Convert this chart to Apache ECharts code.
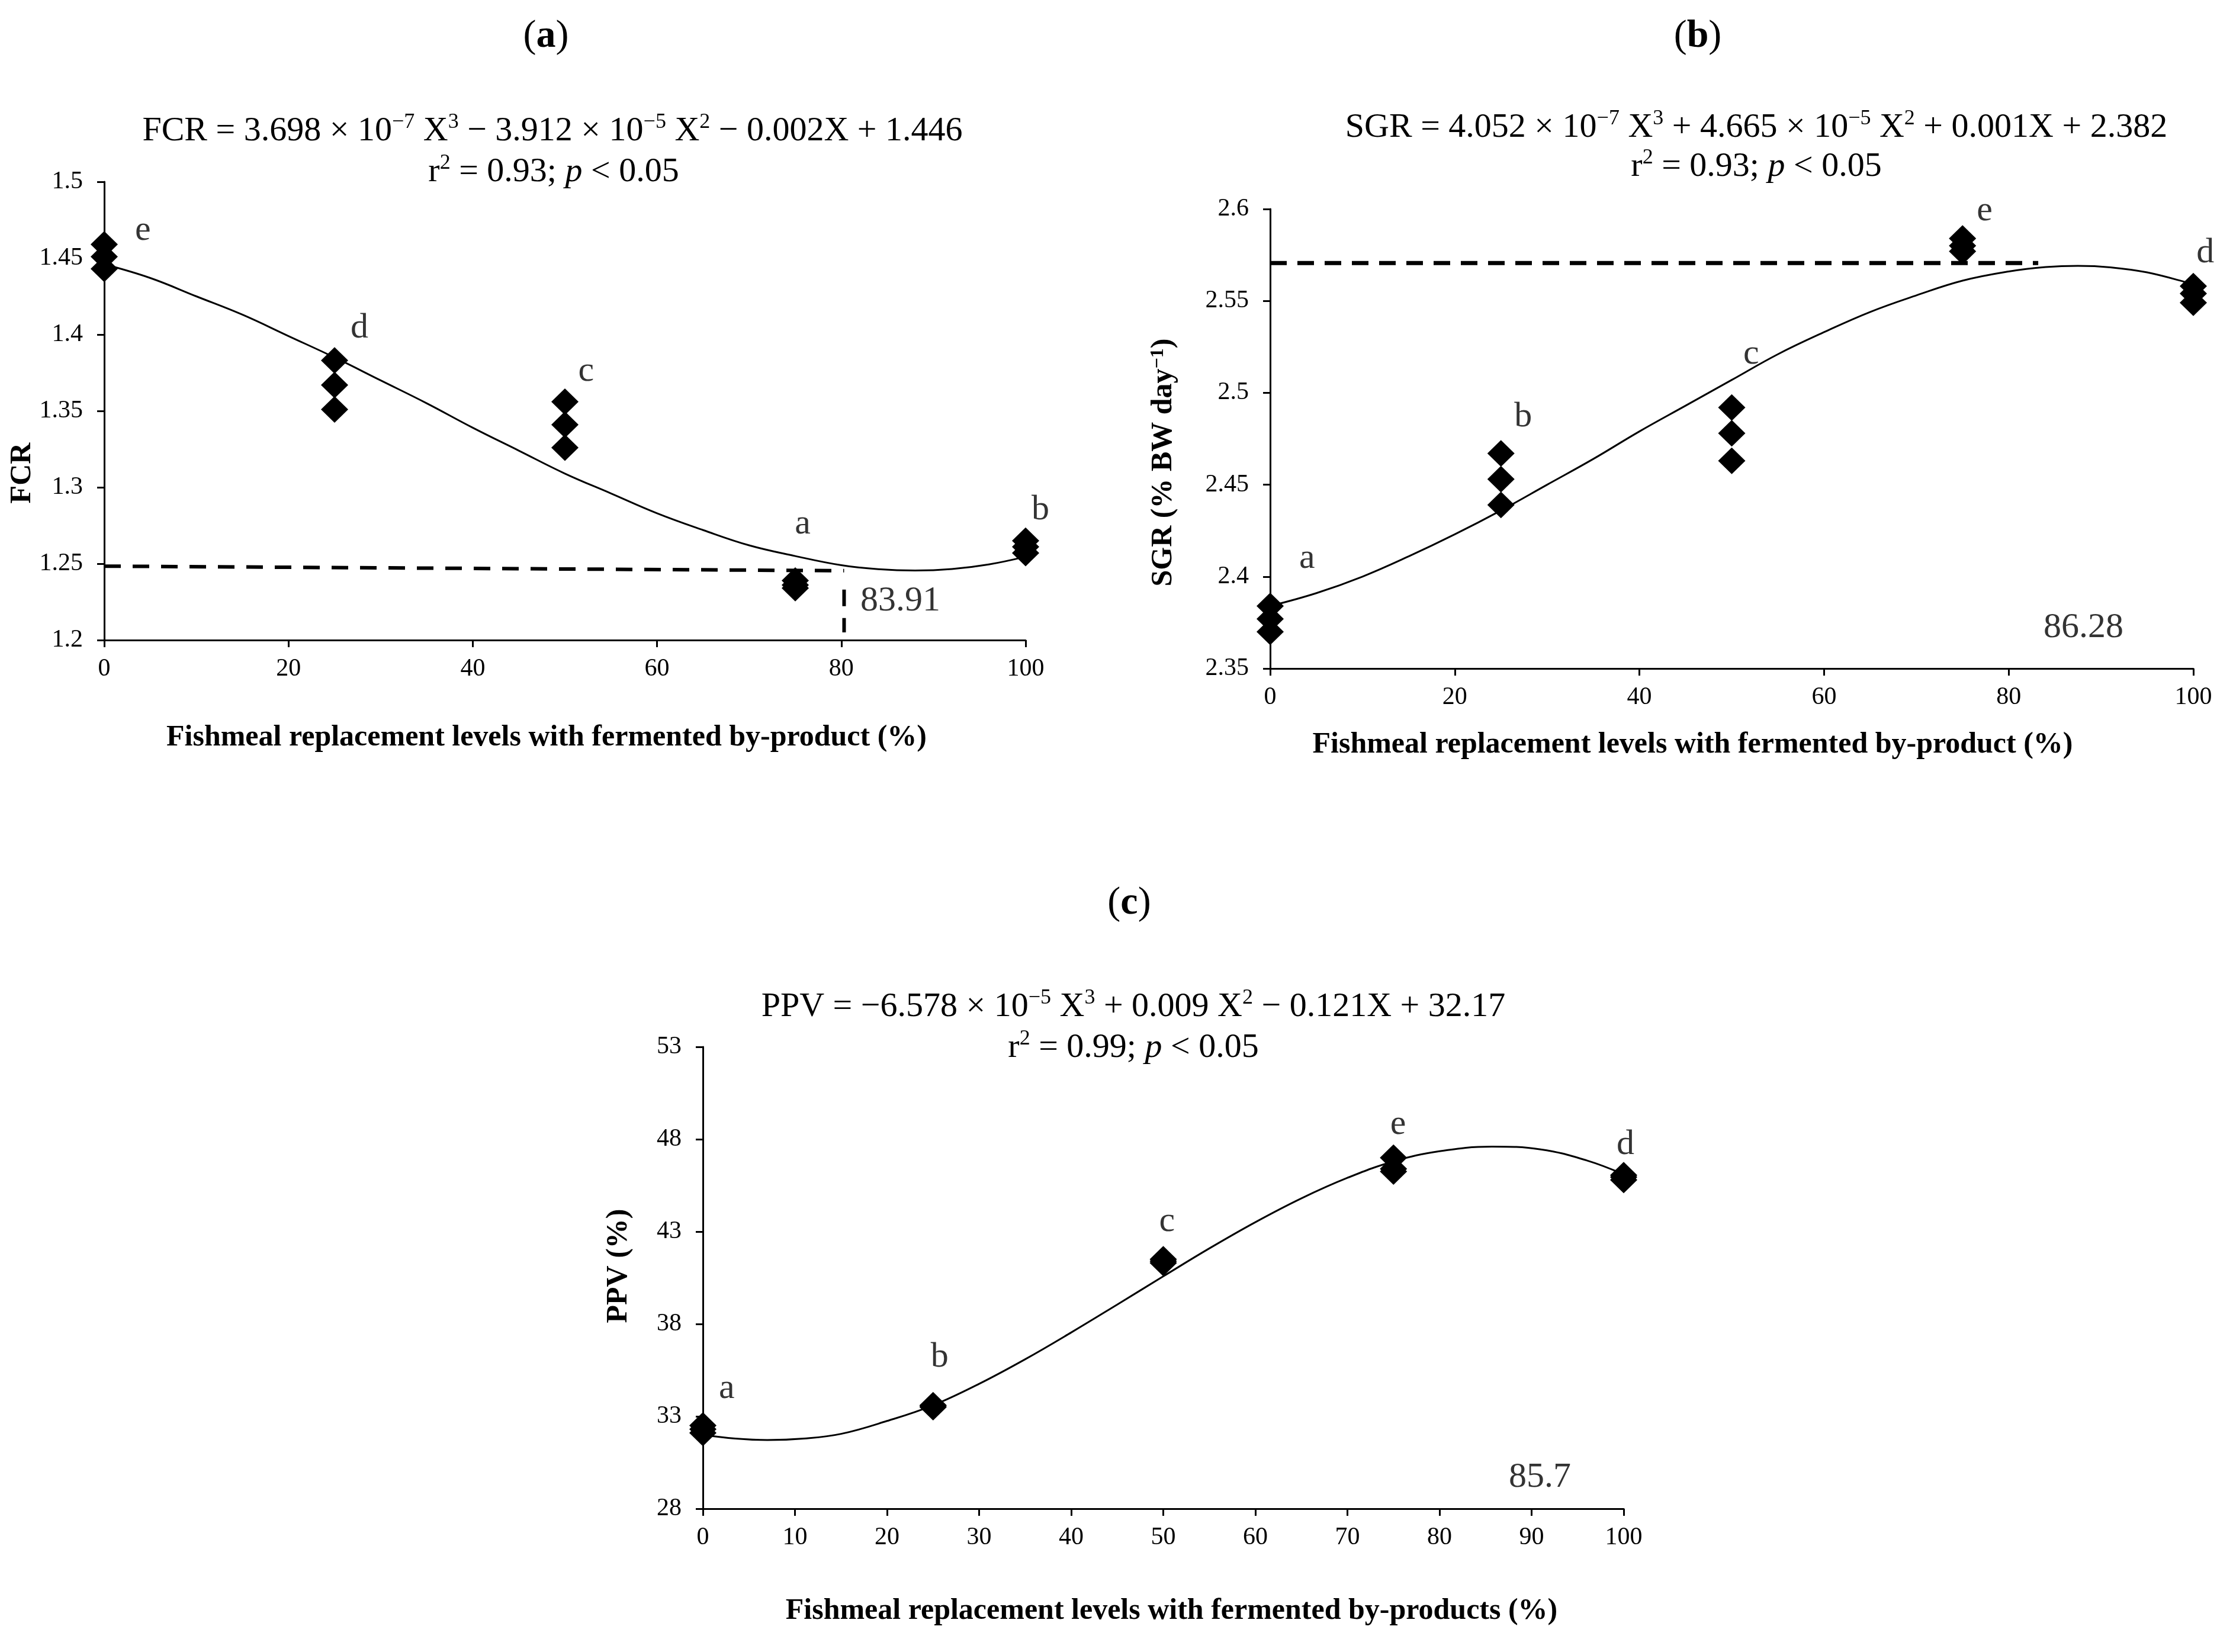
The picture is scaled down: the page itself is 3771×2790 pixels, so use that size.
<!DOCTYPE html>
<html>
<head>
<meta charset="utf-8">
<script src="https://cdn.jsdelivr.net/npm/echarts@6/dist/echarts.min.js"></script>
<style>
html, body { margin: 0; padding: 0; background: #fff; }
#chart { width: 3771px; height: 2790px; }
</style>
</head>
<body>
<div id="chart"></div>
<script>
const FONT = '"Liberation Serif", "Times New Roman", serif';

// replacement levels (%)
const levels = [0, 25, 50, 75, 100];

// (a) FCR
const fcrRep1 = [1.459, 1.383, 1.356, 1.239, 1.265];
const fcrRep2 = [1.451, 1.367, 1.341, 1.236, 1.261];
const fcrRep3 = [1.443, 1.351, 1.326, 1.234, 1.257];
// fitted curve (includes the minimum)
const fcrCurveX = [0, 5, 10, 15, 20, 25, 30, 35, 40, 45, 50, 55, 60, 65, 70, 75, 80, 84, 88, 92, 96, 100];
const fcrCurveY = [1.446, 1.437, 1.425, 1.413, 1.399, 1.385, 1.370, 1.355, 1.339, 1.324, 1.309,
    1.296, 1.283, 1.272, 1.262, 1.255, 1.249, 1.2464, 1.2455, 1.2465, 1.2495, 1.2546];
const fcrLetters = ['e', 'd', 'c', 'a', 'b'];
const fcrLetterX = [4.2, 27.7, 52.3, 75.8, 101.6];
const fcrLetterY = [1.468, 1.404, 1.376, 1.276, 1.285];
const fcrDashH = [[0, 1.2484], [80.3, 1.2454]];
const fcrDashV = [[80.3, 1.233], [80.3, 1.205]];
const fcrOptimum = ['83.91', 86.4, 1.2256];

// (b) SGR
const sgrRep1 = [2.384, 2.467, 2.492, 2.584, 2.558];
const sgrRep2 = [2.377, 2.453, 2.478, 2.580, 2.554];
const sgrRep3 = [2.370, 2.439, 2.463, 2.577, 2.549];
const sgrCurveX = [0, 5, 10, 15, 20, 25, 30, 35, 40, 45, 50, 55, 60, 65, 70, 75, 80, 84, 87.5, 91, 95, 100];
const sgrCurveY = [2.384, 2.391, 2.400, 2.411, 2.423, 2.436, 2.450, 2.464, 2.479, 2.493, 2.507,
    2.521, 2.533, 2.544, 2.553, 2.561, 2.566, 2.5684, 2.5691, 2.5683, 2.5655, 2.559];
const sgrLetters = ['a', 'b', 'c', 'e', 'd'];
const sgrLetterX = [4.0, 27.4, 52.1, 77.4, 101.3];
const sgrLetterY = [2.410, 2.487, 2.521, 2.599, 2.576];
const sgrDashH = [[0, 2.5706], [83.2, 2.5706]];
const sgrOptimum = ['86.28', 88.1, 2.372];

// (c) PPV
const ppvRep1 = [32.5, 33.6, 41.5, 47.0, 46.05];
const ppvRep2 = [32.3, 33.55, 41.4, 46.4, 45.95];
const ppvRep3 = [32.1, 33.5, 41.3, 46.25, 45.8];
const ppvCurveX = [0, 3.5, 7, 11, 15, 20, 25, 30, 35, 40, 45, 50, 55, 60, 65, 70, 75, 80, 85.7, 91, 96, 100];
const ppvCurveY = [32.0, 31.8, 31.72, 31.8, 32.05, 32.75, 33.6, 34.76, 36.09, 37.54, 39.05, 40.58,
    42.09, 43.51, 44.8, 45.91, 46.8, 47.35, 47.6, 47.45, 46.85, 46.1];
const ppvLetters = ['a', 'b', 'c', 'e', 'd'];
const ppvLetterX = [2.6, 25.7, 50.4, 75.5, 100.2];
const ppvLetterY = [34.5, 36.2, 43.55, 48.8, 47.7];
const ppvOptimum = ['85.7', 90.9, 29.7];

const zip = (xs, ys) => xs.map((x, i) => [x, ys[i]]);
const reps = (r1, r2, r3) => [].concat(zip(levels, r1), zip(levels, r2), zip(levels, r3));

const rich = {
    sup: { fontFamily: FONT, fontSize: 36, lineHeight: 40, verticalAlign: 'top', color: '#000' },
    it: { fontFamily: FONT, fontSize: 58, fontStyle: 'italic', color: '#000' },
    b: { fontFamily: FONT, fontSize: 66, fontWeight: 'bold', color: '#000' },
};

function label(text, x, y, size) {
    return {
        text,
        left: x,
        top: y,
        padding: 0,
        textAlign: 'center',
        textVerticalAlign: 'middle',
        textStyle: {
            fontFamily: FONT,
            fontSize: size,
            fontWeight: 'normal',
            color: '#000',
            lineHeight: size + 8,
            rich,
        },
    };
}

const axisLine = { show: true, lineStyle: { color: '#000', width: 3 } };
const axisTick = { show: true, inside: false, length: 12, lineStyle: { color: '#000', width: 3 } };

function xAxis(gridIndex, interval, name, nameGap, namePad) {
    return {
        type: 'value', gridIndex, min: 0, max: 100, interval,
        axisLine, axisTick, splitLine: { show: false },
        axisLabel: { fontFamily: FONT, fontSize: 42, color: '#000', margin: 28 },
        name, nameLocation: 'middle', nameGap,
        nameTextStyle: { fontFamily: FONT, fontSize: 50, fontWeight: 'bold', color: '#000', padding: namePad },
    };
}

function yAxis(gridIndex, min, max, interval, name, nameGap, namePad) {
    return {
        type: 'value', gridIndex, min, max, interval,
        axisLine, axisTick, splitLine: { show: false },
        axisLabel: { fontFamily: FONT, fontSize: 42, color: '#000', margin: 36 },
        name, nameLocation: 'middle', nameGap,
        nameTextStyle: {
            fontFamily: FONT, fontSize: 50, fontWeight: 'bold', color: '#000', padding: namePad,
            rich: { sup: { fontFamily: FONT, fontSize: 32, fontWeight: 'bold', verticalAlign: 'top', lineHeight: 34 } },
        },
    };
}

function curve(i, xs, ys) {
    return {
        type: 'line', xAxisIndex: i, yAxisIndex: i, data: zip(xs, ys),
        smooth: 0.4, showSymbol: false, symbol: 'none',
        lineStyle: { color: '#000', width: 3 }, z: 3,
    };
}

function diamonds(i, data) {
    return {
        type: 'scatter', xAxisIndex: i, yAxisIndex: i, data,
        symbol: 'diamond', symbolSize: [46, 45], clip: false,
        itemStyle: { color: '#000', opacity: 1 }, z: 4,
    };
}

function dashed(i, data, width, dash) {
    return {
        type: 'line', xAxisIndex: i, yAxisIndex: i, data,
        showSymbol: false, symbol: 'none',
        lineStyle: { color: '#000', width, type: dash }, z: 2,
    };
}

function texts(i, names, xs, ys) {
    return {
        type: 'scatter', xAxisIndex: i, yAxisIndex: i, clip: false,
        data: names.map((n, k) => ({ name: n, value: [xs[k], ys[k]] })),
        symbol: 'circle', symbolSize: 1,
        itemStyle: { color: 'rgba(0,0,0,0)' },
        label: {
            show: true, position: 'inside', formatter: '{b}',
            fontFamily: FONT, fontSize: 60, color: '#000',
        },
        z: 5,
    };
}

const chart = echarts.init(document.getElementById('chart'));

chart.setOption({
    animation: false,
    backgroundColor: '#fff',
    title: [
        label('({b|a})', 922, 62, 66),
        label('FCR = 3.698 × 10{sup|−7} X{sup|3} − 3.912 × 10{sup|−5} X{sup|2} − 0.002X + 1.446', 933, 222, 58),
        label('r{sup|2} = 0.93; {it|p} < 0.05', 935, 291, 58),
        label('({b|b})', 2867, 62, 66),
        label('SGR = 4.052 × 10{sup|−7} X{sup|3} + 4.665 × 10{sup|−5} X{sup|2} + 0.001X + 2.382', 2966, 216, 58),
        label('r{sup|2} = 0.93; {it|p} < 0.05', 2966, 282, 58),
        label('({b|c})', 1907, 1526, 66),
        label('PPV = −6.578 × 10{sup|−5} X{sup|3} + 0.009 X{sup|2} − 0.121X + 32.17', 1914, 1701, 58),
        label('r{sup|2} = 0.99; {it|p} < 0.05', 1914, 1770, 58),
    ],
    grid: [
        { left: 176, right: 2039, top: 307, bottom: 1709 },
        { left: 2145, right: 67, top: 353, bottom: 1661 },
        { left: 1187, right: 1029, top: 1768, bottom: 242 },
    ],
    xAxis: [
        xAxis(0, 20, 'Fishmeal replacement levels with fermented by-product (%)', 140, [0, 62, 0, 0]),
        xAxis(1, 20, 'Fishmeal replacement levels with fermented by-product (%)', 104, [0, 132, 0, 0]),
        xAxis(2, 10, 'Fishmeal replacement levels with fermented by-products (%)', 148, [0, 0, 0, 28]),
    ],
    yAxis: [
        yAxis(0, 1.2, 1.5, 0.05, 'FCR', 108, [0, 210, 0, 0]),
        yAxis(1, 2.35, 2.6, 0.05, 'SGR (% BW day{sup|−1})', 155, [0, 80, 0, 0]),
        yAxis(2, 28, 53, 5, 'PPV (%)', 117, [0, 0, 0, 40]),
    ],
    series: [
        curve(0, fcrCurveX, fcrCurveY),
        diamonds(0, reps(fcrRep1, fcrRep2, fcrRep3)),
        dashed(0, fcrDashH, 6, [28, 20]),
        dashed(0, fcrDashV, 6, [28, 20]),
        texts(0, fcrLetters, fcrLetterX, fcrLetterY),
        texts(0, [fcrOptimum[0]], [fcrOptimum[1]], [fcrOptimum[2]]),

        curve(1, sgrCurveX, sgrCurveY),
        diamonds(1, reps(sgrRep1, sgrRep2, sgrRep3)),
        dashed(1, sgrDashH, 7, [28, 18]),
        texts(1, sgrLetters, sgrLetterX, sgrLetterY),
        texts(1, [sgrOptimum[0]], [sgrOptimum[1]], [sgrOptimum[2]]),

        curve(2, ppvCurveX, ppvCurveY),
        diamonds(2, reps(ppvRep1, ppvRep2, ppvRep3)),
        texts(2, ppvLetters, ppvLetterX, ppvLetterY),
        texts(2, [ppvOptimum[0]], [ppvOptimum[1]], [ppvOptimum[2]]),
    ],
});

window.addEventListener('resize', chart.resize);
</script>
</body>
</html>
